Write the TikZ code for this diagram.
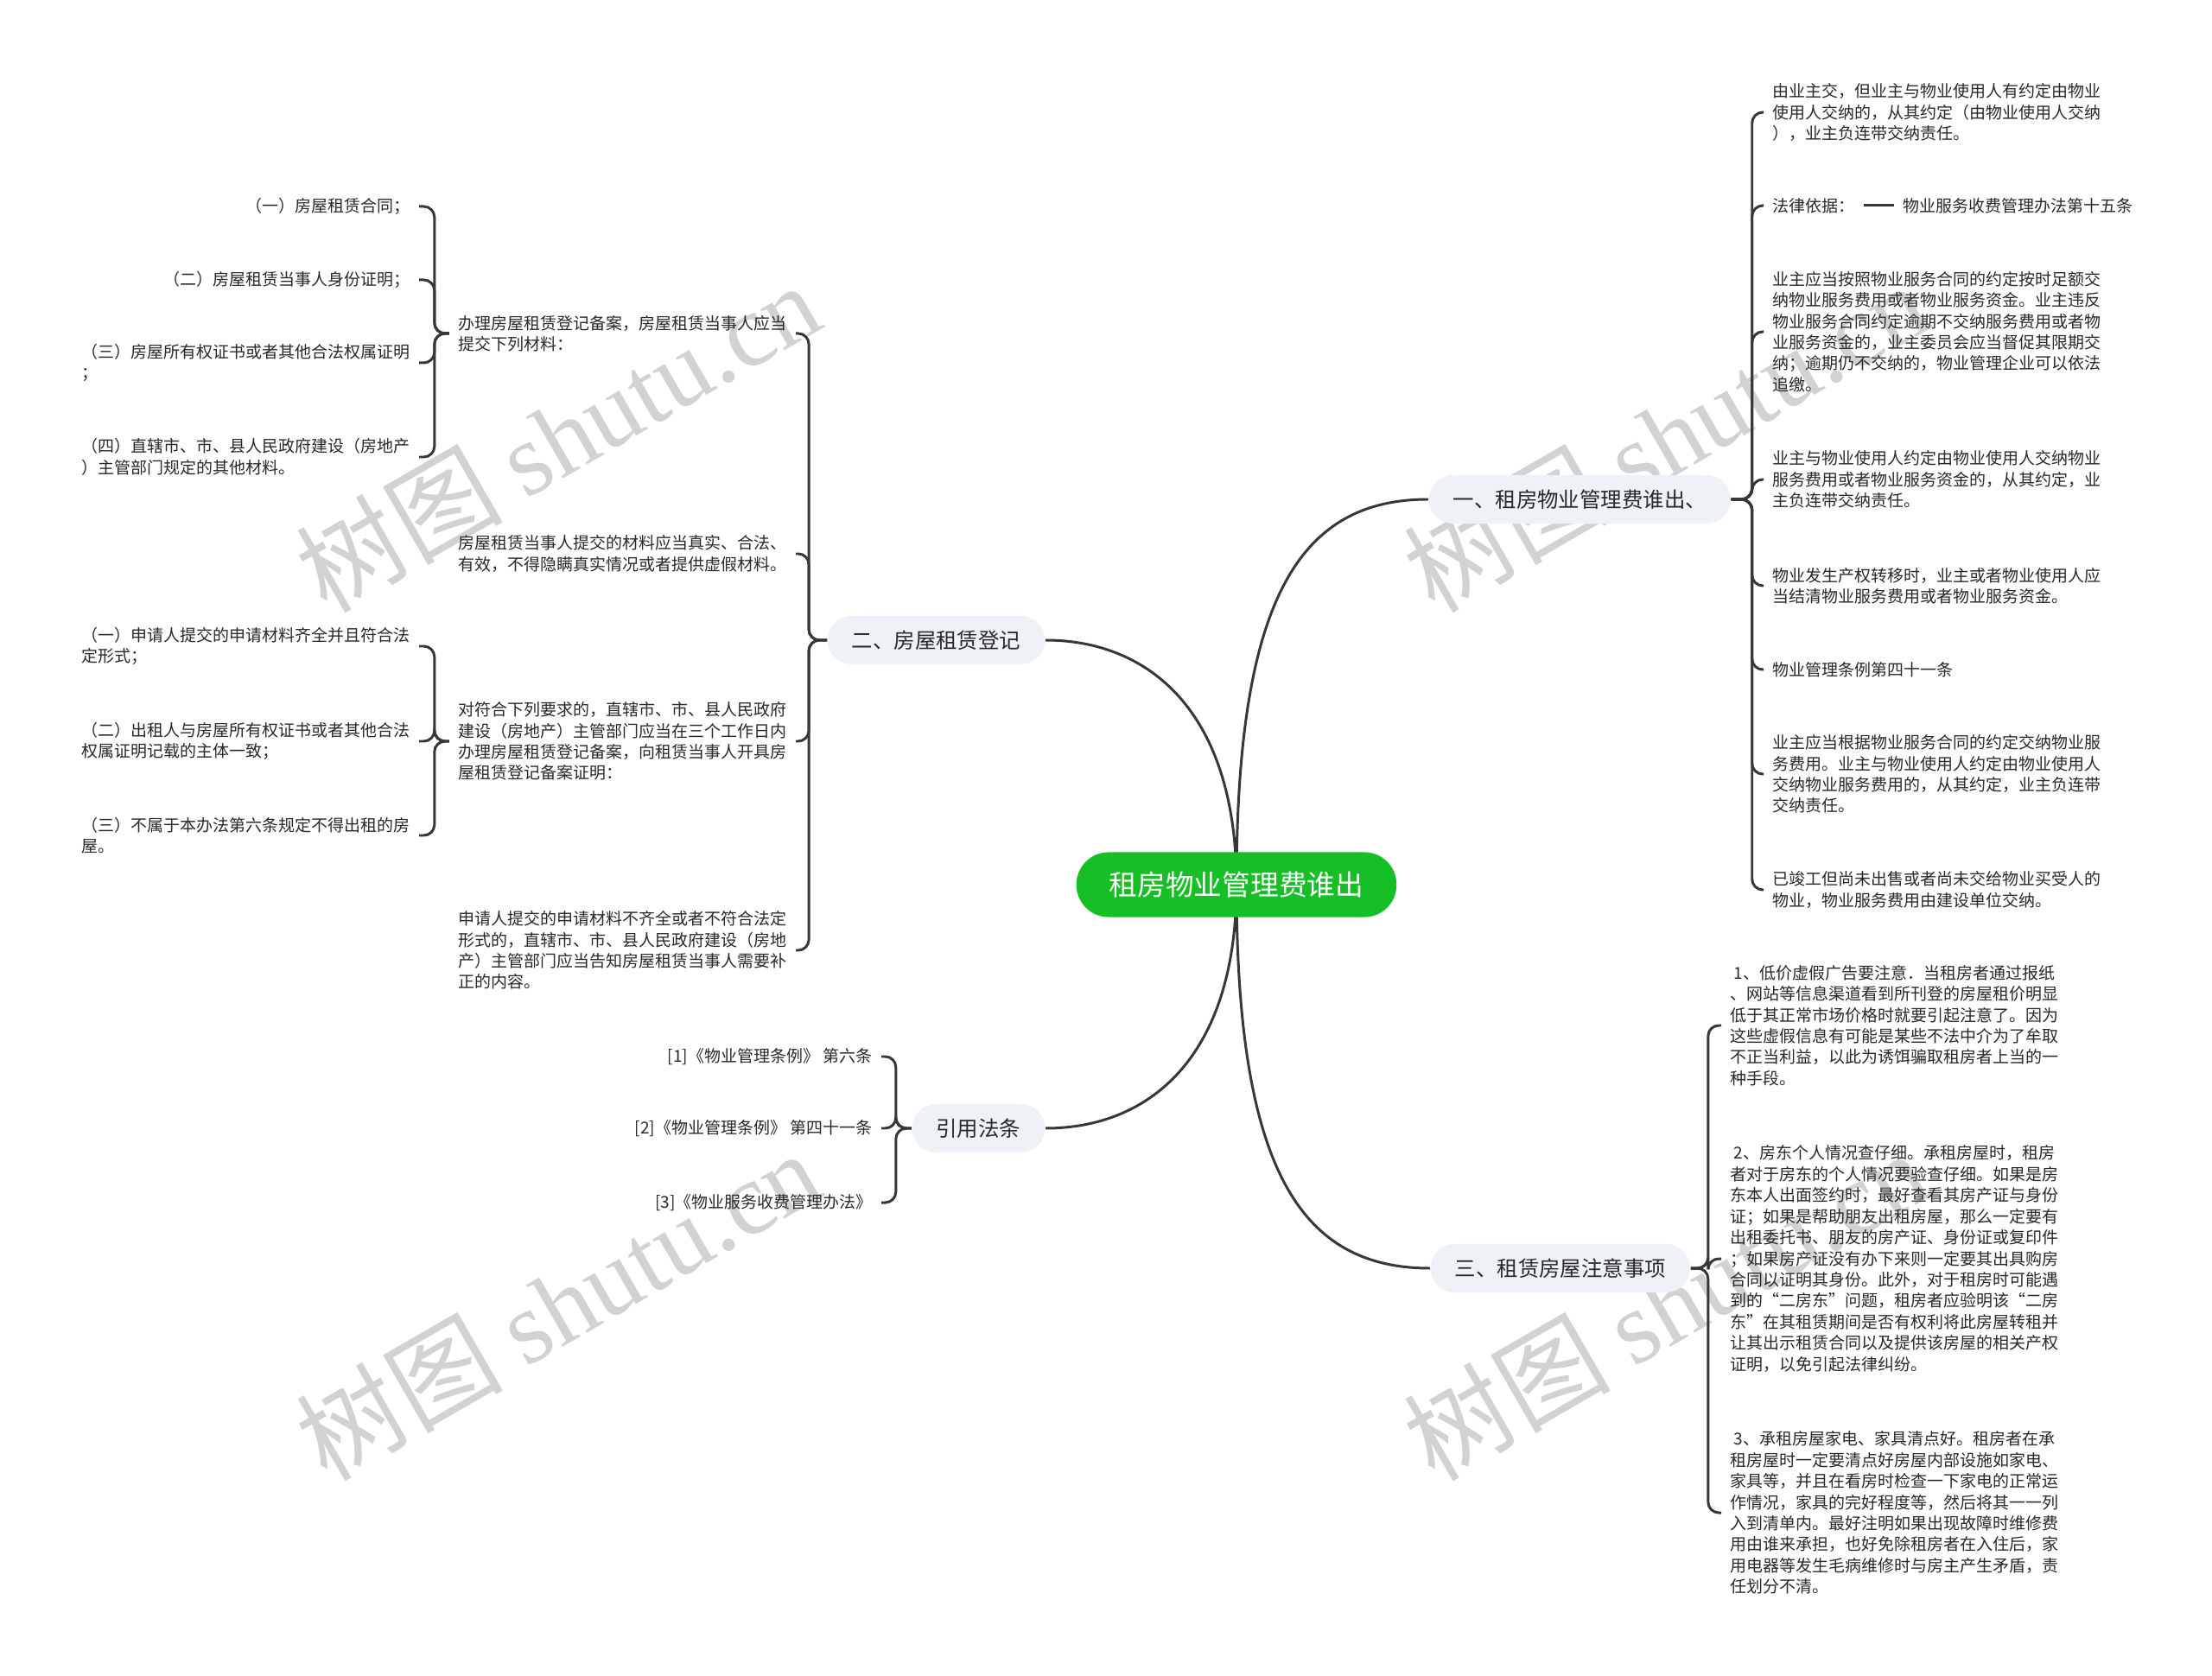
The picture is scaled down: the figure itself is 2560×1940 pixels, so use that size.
\documentclass[tikz,border=0pt]{standalone}
\usepackage{fontspec}
\setmainfont{Noto Sans CJK SC}
\newfontfamily\wmlatin{Liberation Serif}
\usetikzlibrary{backgrounds}
\definecolor{rootgreen}{RGB}{22,191,38}
\definecolor{branchgray}{RGB}{238,241,245}
\definecolor{txtgray}{RGB}{40,40,40}
\definecolor{linegray}{RGB}{55,55,55}
\definecolor{wmgray}{RGB}{210,210,210}
\newcommand\leaffont{\fontsize{5.4pt}{6.95pt}\selectfont}
\newcommand\branchfont{\fontsize{6.95pt}{8pt}\selectfont}
\newcommand\rootfont{\fontsize{9.3pt}{11pt}\selectfont}
\newcommand\wmfont{\fontsize{34pt}{36pt}\selectfont}
\tikzset{root/.style={
            fill=rootgreen,
            text=white,
            rounded corners=0.37cm,
            minimum height=0.75cm,
            inner xsep=0.38cm,
            font=\rootfont
        },
        branch/.style={
            fill=branchgray,
            text=txtgray,
            rounded corners=0.28cm,
            minimum height=0.56cm,
            inner xsep=0.28cm,
            font=\branchfont
        },
        leaf/.style={
            text=txtgray,
            align=left,
            inner sep=0.1cm,
            font=\leaffont
        },
        link/.style={
            draw=linegray,
            line width=0.85pt
        },
        fork/.style={
            link,
            rounded corners=3.5pt
        },
        wmtext/.style={
            text=wmgray,
            font=\wmfont,
            rotate=30
        }
    }

\begin{document}
\begin{tikzpicture}[x=0.01cm, y=-0.01cm]
        \useasboundingbox (0,0) rectangle (2560,1940);

        % centre and main branches
        \node[root] (root) at (1431,1024) {租房物业管理费谁出};
        \node[branch, anchor=west] (b1) at (1653,578) {一、租房物业管理费谁出、};
        \node[branch, anchor=east] (b2) at (1210,741) {二、房屋租赁登记};
        \node[branch, anchor=west] (b3) at (1655,1468) {三、租赁房屋注意事项};
        \node[branch, anchor=east] (b4) at (1210,1306) {引用法条};

        % branch one
        \node[leaf, anchor=west] (a1) at (2041,130) {由业主交，但业主与物业使用人有约定由物业\\使用人交纳的，从其约定（由物业使用人交纳\\），业主负连带交纳责任。};
        \node[leaf, anchor=west] (a2) at (2041,238) {法律依据：};
        \node[leaf, anchor=west] (a21) at (2192,238) {物业服务收费管理办法第十五条};
        \node[leaf, anchor=west] (a3) at (2041,384) {业主应当按照物业服务合同的约定按时足额交\\纳物业服务费用或者物业服务资金。业主违反\\物业服务合同约定逾期不交纳服务费用或者物\\业服务资金的，业主委员会应当督促其限期交\\纳；逾期仍不交纳的，物业管理企业可以依法\\追缴。};
        \node[leaf, anchor=west] (a4) at (2041,555) {业主与物业使用人约定由物业使用人交纳物业\\服务费用或者物业服务资金的，从其约定，业\\主负连带交纳责任。};
        \node[leaf, anchor=west] (a5) at (2041,678) {物业发生产权转移时，业主或者物业使用人应\\当结清物业服务费用或者物业服务资金。};
        \node[leaf, anchor=west] (a6) at (2041,775) {物业管理条例第四十一条};
        \node[leaf, anchor=west] (a7) at (2041,896) {业主应当根据物业服务合同的约定交纳物业服\\务费用。业主与物业使用人约定由物业使用人\\交纳物业服务费用的，从其约定，业主负连带\\交纳责任。};
        \node[leaf, anchor=west] (a8) at (2041,1030) {已竣工但尚未出售或者尚未交给物业买受人的\\物业，物业服务费用由建设单位交纳。};

        % branch two
        \node[leaf, anchor=east] (l1) at (921,386) {办理房屋租赁登记备案，房屋租赁当事人应当\\提交下列材料：};
        \node[leaf, anchor=east] (l2) at (921,641) {房屋租赁当事人提交的材料应当真实、合法、\\有效，不得隐瞒真实情况或者提供虚假材料。};
        \node[leaf, anchor=east] (l3) at (921,858) {对符合下列要求的，直辖市、市、县人民政府\\建设（房地产）主管部门应当在三个工作日内\\办理房屋租赁登记备案，向租赁当事人开具房\\屋租赁登记备案证明：};
        \node[leaf, anchor=east] (l4) at (921,1100) {申请人提交的申请材料不齐全或者不符合法定\\形式的，直辖市、市、县人民政府建设（房地\\产）主管部门应当告知房屋租赁当事人需要补\\正的内容。};
        \node[leaf, anchor=east] (s1) at (485,239) {（一）房屋租赁合同；};
        \node[leaf, anchor=east] (s2) at (485,324) {（二）房屋租赁当事人身份证明；};
        \node[leaf, anchor=east] (s3) at (485,420) {（三）房屋所有权证书或者其他合法权属证明\\；};
        \node[leaf, anchor=east] (s4) at (485,529) {（四）直辖市、市、县人民政府建设（房地产\\）主管部门规定的其他材料。};
        \node[leaf, anchor=east] (t1) at (485,748) {（一）申请人提交的申请材料齐全并且符合法\\定形式；};
        \node[leaf, anchor=east] (t2) at (485,858) {（二）出租人与房屋所有权证书或者其他合法\\权属证明记载的主体一致；};
        \node[leaf, anchor=east] (t3) at (485,967) {（三）不属于本办法第六条规定不得出租的房\\屋。};

        % branch three
        \node[leaf, anchor=west] (c1) at (1992,1187) {\ 1、低价虚假广告要注意．当租房者通过报纸\\、网站等信息渠道看到所刊登的房屋租价明显\\低于其正常市场价格时就要引起注意了。因为\\这些虚假信息有可能是某些不法中介为了牟取\\不正当利益，以此为诱饵骗取租房者上当的一\\种手段。};
        \node[leaf, anchor=west] (c2) at (1992,1457) {\ 2、房东个人情况查仔细。承租房屋时，租房\\者对于房东的个人情况要验查仔细。如果是房\\东本人出面签约时，最好查看其房产证与身份\\证；如果是帮助朋友出租房屋，那么一定要有\\出租委托书、朋友的房产证、身份证或复印件\\；如果房产证没有办下来则一定要其出具购房\\合同以证明其身份。此外，对于租房时可能遇\\到的“二房东”问题，租房者应验明该“二房\\东”在其租赁期间是否有权利将此房屋转租并\\让其出示租赁合同以及提供该房屋的相关产权\\证明，以免引起法律纠纷。};
        \node[leaf, anchor=west] (c3) at (1992,1751) {\ 3、承租房屋家电、家具清点好。租房者在承\\租房屋时一定要清点好房屋内部设施如家电、\\家具等，并且在看房时检查一下家电的正常运\\作情况，家具的完好程度等，然后将其一一列\\入到清单内。最好注明如果出现故障时维修费\\用由谁来承担，也好免除租房者在入住后，家\\用电器等发生毛病维修时与房主产生矛盾，责\\任划分不清。};

        % references
        \node[leaf, anchor=east] (r1) at (1020,1223) {[1]《物业管理条例》 第六条};
        \node[leaf, anchor=east] (r2) at (1020,1306) {[2]《物业管理条例》 第四十一条};
        \node[leaf, anchor=east] (r3) at (1020,1392) {[3]《物业服务收费管理办法》};

        % forks
        \draw[fork] (b1.east) -- ++(24,0) |- (a1.west);
        \draw[fork] (b1.east) -- ++(24,0) |- (a2.west);
        \draw[fork] (b1.east) -- ++(24,0) |- (a3.west);
        \draw[fork] (b1.east) -- ++(24,0) |- (a4.west);
        \draw[fork] (b1.east) -- ++(24,0) |- (a5.west);
        \draw[fork] (b1.east) -- ++(24,0) |- (a6.west);
        \draw[fork] (b1.east) -- ++(24,0) |- (a7.west);
        \draw[fork] (b1.east) -- ++(24,0) |- (a8.west);
        \draw[link] (a2.east) -- (a21.west);

        \draw[fork] (b2.west) -- ++(-21,0) |- (l1.east);
        \draw[fork] (b2.west) -- ++(-21,0) |- (l2.east);
        \draw[fork] (b2.west) -- ++(-21,0) |- (l3.east);
        \draw[fork] (b2.west) -- ++(-21,0) |- (l4.east);
        \draw[fork] (l1.west) -- ++(-17,0) |- (s1.east);
        \draw[fork] (l1.west) -- ++(-17,0) |- (s2.east);
        \draw[fork] (l1.west) -- ++(-17,0) |- (s3.east);
        \draw[fork] (l1.west) -- ++(-17,0) |- (s4.east);
        \draw[fork] (l3.west) -- ++(-17,0) |- (t1.east);
        \draw[fork] (l3.west) -- ++(-17,0) |- (t2.east);
        \draw[fork] (l3.west) -- ++(-17,0) |- (t3.east);

        \draw[fork] (b3.east) -- ++(20,0) |- (c1.west);
        \draw[fork] (b3.east) -- ++(20,0) |- (c2.west);
        \draw[fork] (b3.east) -- ++(20,0) |- (c3.west);

        \draw[fork] (b4.west) -- ++(-18,0) |- (r1.east);
        \draw[fork] (b4.west) -- ++(-18,0) |- (r2.east);
        \draw[fork] (b4.west) -- ++(-18,0) |- (r3.east);

        \begin{scope}[on background layer]
            \fill[white] (0,0) rectangle (2560,1940);
            \node[wmtext] (wm1) at (645,505) {树图 {\wmlatin shutu.cn}};
            \node[wmtext] (wm2) at (1927,505) {树图 {\wmlatin shutu.cn}};
            \node[wmtext] (wm3) at (645,1510) {树图 {\wmlatin shutu.cn}};
            \node[wmtext] (wm4) at (1927,1510) {树图 {\wmlatin shutu.cn}};
            \draw[link] (root.center) .. controls +(0,-330) and +(-150,0) .. (b1.west);
            \draw[link] (root.center) .. controls +(0,330) and +(-150,0) .. (b3.west);
            \draw[link] (root.center) .. controls +(0,-200) and +(120,0) .. (b2.east);
            \draw[link] (root.center) .. controls +(0,200) and +(120,0) .. (b4.east);
        \end{scope}
    \end{tikzpicture}
\end{document}
